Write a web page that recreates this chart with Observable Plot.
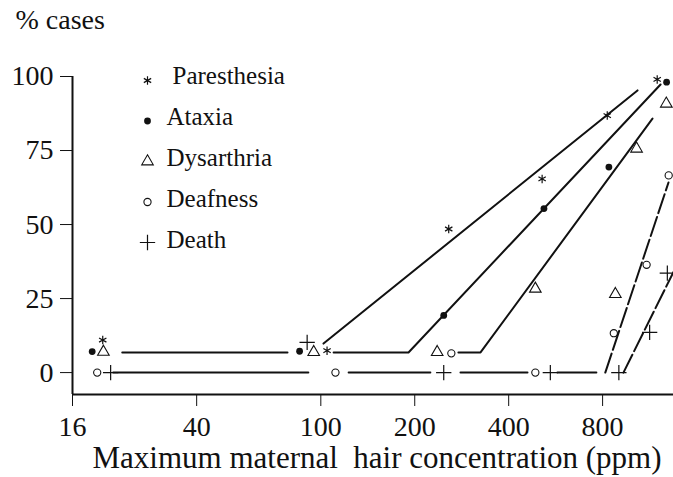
<!DOCTYPE html>
<html><head><meta charset="utf-8">
<script src="https://cdn.jsdelivr.net/npm/d3@7"></script>
<script src="https://cdn.jsdelivr.net/npm/@observablehq/plot@0.6"></script>
<style>body{margin:0;background:#fff}#chart svg{display:block}</style>
</head><body><div id="chart"></div>
<script>
// ---- data ----
const series = ["Paresthesia", "Ataxia", "Dysarthria", "Deafness", "Death"];
const xTicks = [16, 40, 100, 200, 400, 800];
const yTicks = [0, 25, 50, 75, 100];
const xTitle = "Maximum maternal  hair concentration (ppm)";
const yTitle = "% cases";

// observed points [ppm, % cases]
const paresthesia = [[20, 11], [104.7, 7.4], [257, 48.5], [512, 65.4], [828, 86.8], [1197, 99]];
const ataxia = [[18.5, 7.1], [85.5, 7.2], [247.7, 19.3], [519, 55.4], [838, 69.4], [1283, 98.1]];
const dysarthria = [[20.1, 7], [94.9, 6.9], [236, 6.9], [487, 28.3], [879, 26.5], [1028, 75.6], [1280, 90.8]];
const deafness = [[19.2, 0], [111.4, 0], [262, 6.5], [487, 0], [869, 13.3], [1107, 36.4], [1303, 66.6]];
const death = [[21.2, 0], [90.4, 10.2], [247.7, 0], [544, 0], [902, 0], [1132, 13.6], [1290, 33.6]];

// fitted lines (vertices in ppm, %)
const solidSegments = [
  [[21.6, 0], [91.2, 0]],
  [[122.8, 0], [224.4, 0]],
  [[280.3, 0], [459.6, 0]],
  [[573, 0], [764, 0]],
  [[23.1, 6.8], [78.2, 6.8]],
  [[109.9, 6.8], [191, 6.8], [1227, 97.3]],
  [[102, 9.8], [1035, 95.3]],
  [[276, 6.8], [325, 6.8], [1156, 85.8]]
];
const dashedSegments = [
  [[816, 0], [1301, 64.2]],
  [[933, 0], [1350, 34]]
];

const xDomain = [16, 1350];
const yDomain = [-7.4, 100];

// ---- build ----
const ink = "#111";
const toRows = segs => segs.flatMap((s, i) => s.map(([x, y]) => ({x, y, z: i})));
const toPts = arr => arr.map(([x, y]) => ({x, y}));

const styles = {
  Paresthesia: {symbol: "asterisk", r: 4, fill: "none", stroke: ink, strokeWidth: 1.2},
  Ataxia: {symbol: "circle", r: 3.4, fill: ink, stroke: "none"},
  Dysarthria: {symbol: "triangle", r: 4.3, fill: "none", stroke: ink, strokeWidth: 1.1},
  Deafness: {symbol: "circle", r: 3.6, fill: "none", stroke: ink, strokeWidth: 1.1},
  Death: {symbol: "plus", r: 5, fill: "none", stroke: ink, strokeWidth: 1.2}
};
const pointSets = {Paresthesia: paresthesia, Ataxia: ataxia, Dysarthria: dysarthria, Deafness: deafness, Death: death};

const legendMarks = series.flatMap((name, i) => [
  Plot.dot([name], {frameAnchor: "top-left", dx: 75, dy: 4 + i * 40.5, ...styles[name]}),
  Plot.text([name], {frameAnchor: "top-left", dx: i === 0 ? 100 : 94, dy: -1 + i * 41, text: d => d,
    textAnchor: "start", lineAnchor: "middle", fontSize: 25, fill: ink})
]);

const chart = Plot.plot({
  width: 673,
  height: 477,
  marginLeft: 72,
  marginRight: 0,
  marginTop: 76,
  marginBottom: 83,
  style: {fontFamily: "'Liberation Serif', 'DejaVu Serif', serif", fontSize: "28px", color: ink, background: "#fff"},
  x: {type: "log", domain: xDomain},
  y: {domain: yDomain},
  marks: [
    Plot.ruleX([xDomain[0]], {y1: yDomain[0], y2: 100, stroke: ink, strokeWidth: 2}),
    Plot.ruleY([yDomain[0]], {stroke: ink, strokeWidth: 2}),
    Plot.axisX({ticks: xTicks, tickFormat: () => "", tickSize: 12, label: null}),
    Plot.text(xTicks, {x: d => d, text: d => String(d), frameAnchor: "bottom", lineAnchor: "middle", dy: 33, fontSize: 28, fill: ink}),
    Plot.axisY({ticks: yTicks, tickSize: 12, tickPadding: 7, label: null, fontSize: 28}),
    Plot.line(toRows(solidSegments), {x: "x", y: "y", z: "z", stroke: ink, strokeWidth: 2}),
    Plot.line(toRows(dashedSegments), {x: "x", y: "y", z: "z", stroke: ink, strokeWidth: 2, strokeDasharray: "20,4"}),
    ...series.map(name => Plot.dot(toPts(pointSets[name]), {x: "x", y: "y", ...styles[name]})),
    ...legendMarks,
    Plot.text([yTitle], {frameAnchor: "top-left", dx: -57, dy: -56, text: d => d, textAnchor: "start", lineAnchor: "middle", fontSize: 28, fill: ink}),
    Plot.text([xTitle], {frameAnchor: "bottom", dy: 64, dx: 4, text: d => d, lineAnchor: "middle", fontSize: 31, fill: ink})
  ]
});
document.getElementById("chart").append(chart);
</script>
</body></html>
